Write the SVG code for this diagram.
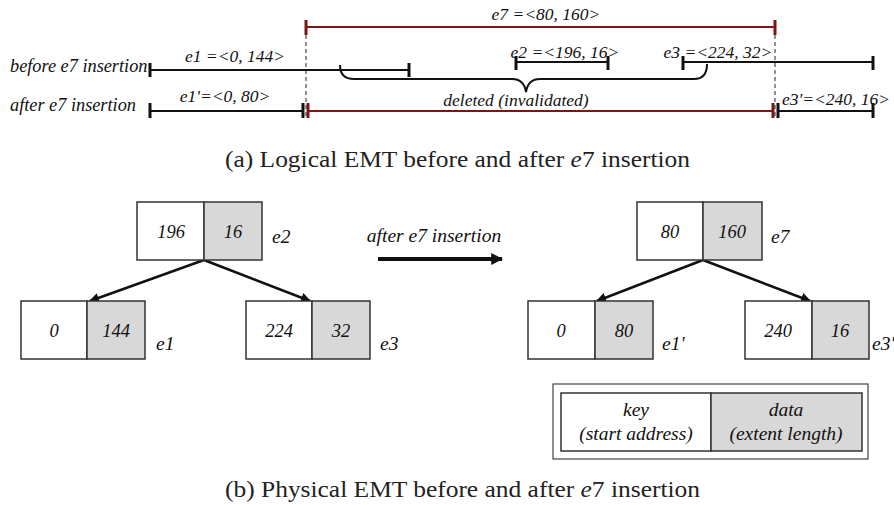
<svg xmlns="http://www.w3.org/2000/svg" width="894" height="505" viewBox="0 0 894 505">
<defs>
<style>
.t{font-family:"Liberation Serif","Times New Roman",serif;font-style:italic;fill:#111;}
.lab{font-size:17.5px;}
.side{font-size:18.3px;}
.big{font-size:19.5px;}
.num{font-size:18.5px;}
.cap{font-family:"Liberation Serif","Times New Roman",serif;font-size:23.5px;fill:#222;}
.blk{stroke:#111;stroke-width:2;fill:none;}
.red{stroke:#7a1616;stroke-width:2;fill:none;}
.tk{stroke:#111;stroke-width:3;}
.tkr{stroke:#7a1616;stroke-width:3;}
.dash{stroke:#222;stroke-width:1;stroke-dasharray:4,3;fill:none;}
.k{fill:#fff;stroke:#333;stroke-width:1.5;}
.d{fill:#d8d8d8;stroke:#333;stroke-width:1.5;}
.edge{stroke:#111;stroke-width:2.5;fill:none;marker-end:url(#ah);}
</style>
<marker id="ah" viewBox="0 0 10 10" refX="9" refY="5" markerWidth="4" markerHeight="4" orient="auto" markerUnits="strokeWidth">
<path d="M0,0 L10,5 L0,10 z" fill="#111"/>
</marker>
<marker id="ah2" viewBox="0 0 10 10" refX="9" refY="5" markerWidth="3" markerHeight="3" orient="auto" markerUnits="strokeWidth">
<path d="M0,0 L10,5 L0,10 z" fill="#111"/>
</marker>
</defs>

<g id="logical">
<line class="dash" x1="306" y1="35" x2="306" y2="118"/>
<line class="dash" x1="775" y1="35" x2="775" y2="118"/>
<g id="e7-extent">
<line class="red" x1="306" y1="27" x2="775" y2="27"/>
<line class="tkr" x1="306" y1="20" x2="306" y2="35"/>
<line class="tkr" x1="775" y1="20" x2="775" y2="35"/>
<text class="t lab" x="546" y="20" text-anchor="middle">e7 =&lt;80, 160&gt;</text>
</g>
<text class="t side" x="10" y="72">before e7 insertion</text>
<text class="t side" x="10" y="111">after e7 insertion</text>
<g id="e1-extent">
<line class="blk" x1="150" y1="70" x2="409" y2="70"/>
<line class="tk" x1="150" y1="63" x2="150" y2="77"/>
<line class="tk" x1="409" y1="63" x2="409" y2="77"/>
<text class="t lab" x="235" y="62" text-anchor="middle">e1 =&lt;0, 144&gt;</text>
</g>
<g id="e2-extent">
<line class="blk" x1="516" y1="62" x2="608" y2="62"/>
<line class="tk" x1="516" y1="56" x2="516" y2="70"/>
<line class="tk" x1="608" y1="56" x2="608" y2="70"/>
<text class="t lab" x="565" y="58" text-anchor="middle">e2 =&lt;196, 16&gt;</text>
</g>
<g id="e3-extent">
<line class="blk" x1="683" y1="62" x2="873" y2="62"/>
<line class="tk" x1="683" y1="56" x2="683" y2="70"/>
<line class="tk" x1="873" y1="56" x2="873" y2="70"/>
<text class="t lab" x="718" y="58" text-anchor="middle">e3 =&lt;224, 32&gt;</text>
</g>
<path class="blk" d="M340,65 Q340,79 354,79 L512,79 Q524,79 526,92 Q528,79 540,79 L694,79 Q707,79 707,64"/>
<g id="e1p-extent">
<line class="blk" x1="150" y1="111" x2="303" y2="111"/>
<line class="tk" x1="150" y1="103" x2="150" y2="118"/>
<line class="tk" x1="303" y1="103" x2="303" y2="118"/>
<text class="t lab" x="225" y="102" text-anchor="middle">e1'=&lt;0, 80&gt;</text>
</g>
<g id="deleted-extent">
<line class="red" x1="308" y1="111" x2="773" y2="111"/>
<line class="tkr" x1="308" y1="103" x2="308" y2="118"/>
<line class="tkr" x1="773" y1="103" x2="773" y2="118"/>
<text class="t lab" x="516" y="106" text-anchor="middle">deleted (invalidated)</text>
</g>
<g id="e3p-extent">
<line class="blk" x1="778" y1="111" x2="873" y2="111"/>
<line class="tk" x1="778" y1="103" x2="778" y2="118"/>
<line class="tk" x1="873" y1="103" x2="873" y2="118"/>
<text class="t lab" x="836" y="105" text-anchor="middle">e3'=&lt;240, 16&gt;</text>
</g>
</g>
<text class="cap" x="225" y="167" textLength="465" lengthAdjust="spacingAndGlyphs">(a) Logical EMT before and after <tspan font-style="italic">e</tspan>7 insertion</text>

<g id="connectors">
<line class="edge" x1="204" y1="260" x2="90" y2="301"/>
<line class="edge" x1="204" y1="260" x2="310" y2="301"/>
<line class="edge" x1="703" y1="260" x2="597" y2="301"/>
<line class="edge" x1="703" y1="260" x2="810" y2="301"/>
<line x1="378" y1="259" x2="502" y2="259" stroke="#111" stroke-width="4" marker-end="url(#ah2)"/>
</g>
<text class="t big" x="434" y="242" text-anchor="middle">after e7 insertion</text>

<g id="node-e2">
<rect class="k" x="137" y="202" width="67" height="58"/>
<rect class="d" x="204" y="202" width="58" height="58"/>
<text class="t num" x="171" y="238" text-anchor="middle">196</text>
<text class="t num" x="233" y="238" text-anchor="middle">16</text>
<text class="t big" x="272" y="243">e2</text>
</g>
<g id="node-e1">
<rect class="k" x="21" y="301" width="66" height="58"/>
<rect class="d" x="87" y="301" width="58" height="58"/>
<text class="t num" x="54" y="337" text-anchor="middle">0</text>
<text class="t num" x="116" y="337" text-anchor="middle">144</text>
<text class="t big" x="156" y="350">e1</text>
</g>
<g id="node-e3">
<rect class="k" x="246" y="301" width="66" height="58"/>
<rect class="d" x="312" y="301" width="58" height="58"/>
<text class="t num" x="279" y="337" text-anchor="middle">224</text>
<text class="t num" x="341" y="337" text-anchor="middle">32</text>
<text class="t big" x="380" y="350">e3</text>
</g>
<g id="node-e7">
<rect class="k" x="637" y="202" width="66" height="58"/>
<rect class="d" x="703" y="202" width="59" height="58"/>
<text class="t num" x="670" y="238" text-anchor="middle">80</text>
<text class="t num" x="732" y="238" text-anchor="middle">160</text>
<text class="t big" x="771" y="243">e7</text>
</g>
<g id="node-e1p">
<rect class="k" x="528" y="301" width="67" height="58"/>
<rect class="d" x="595" y="301" width="58" height="58"/>
<text class="t num" x="561" y="337" text-anchor="middle">0</text>
<text class="t num" x="624" y="337" text-anchor="middle">80</text>
<text class="t big" x="662" y="350">e1'</text>
</g>
<g id="node-e3p">
<rect class="k" x="745" y="301" width="67" height="58"/>
<rect class="d" x="812" y="301" width="57" height="58"/>
<text class="t num" x="778" y="337" text-anchor="middle">240</text>
<text class="t num" x="840" y="337" text-anchor="middle">16</text>
<text class="t big" x="872" y="350">e3'</text>
</g>
<g id="legend">
<rect x="553" y="384" width="315" height="75" fill="#fff" stroke="#444" stroke-width="1.2"/>
<rect class="k" x="561" y="393" width="150" height="58"/>
<rect class="d" x="711" y="393" width="151" height="58"/>
<text class="t big" x="636" y="416" text-anchor="middle">key</text>
<text class="t big" x="636" y="440" text-anchor="middle">(start address)</text>
<text class="t big" x="786" y="416" text-anchor="middle">data</text>
<text class="t big" x="786" y="440" text-anchor="middle">(extent length)</text>
</g>
<text class="cap" x="225" y="497" textLength="475" lengthAdjust="spacingAndGlyphs">(b) Physical EMT before and after <tspan font-style="italic">e</tspan>7 insertion</text>
</svg>
